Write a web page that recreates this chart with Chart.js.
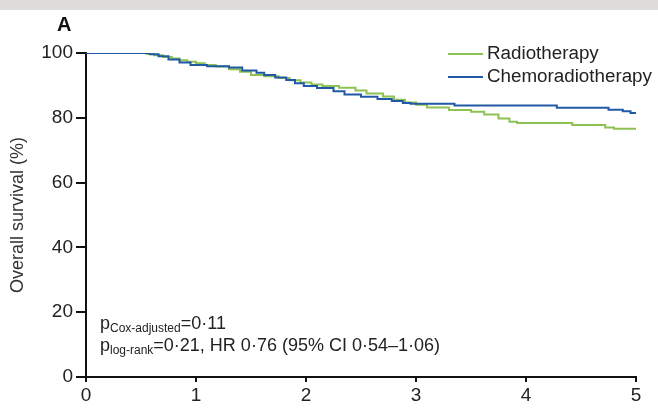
<!DOCTYPE html>
<html>
<head>
<meta charset="utf-8">
<script src="https://cdn.jsdelivr.net/npm/chart.js@4.4.1/dist/chart.umd.min.js"></script>
<style>
  body { margin: 0; background: #fff; }
  #wrap { width: 658px; height: 408px; }
</style>
</head>
<body>
<div id="wrap"><canvas id="myChart" width="658" height="408"></canvas></div>
<script>
// Kaplan-Meier curves (years, % alive)
const seriesNames = ['Radiotherapy', 'Chemoradiotherapy'];
const radioYears = [0, 0.5, 0.55, 0.62, 0.7, 0.78, 0.85, 0.92, 1.0, 1.08, 1.18, 1.3, 1.4, 1.5, 1.62, 1.75, 1.85, 1.95, 2.05, 2.15, 2.3, 2.45, 2.55, 2.7, 2.8, 2.9, 3.0, 3.1, 3.3, 3.5, 3.62, 3.75, 3.85, 3.92, 4.42, 4.72, 4.8, 5.0];
const radioSurvival = [100, 100, 99.7, 99.3, 98.8, 98.3, 97.8, 97.3, 96.8, 96.3, 95.8, 95.0, 94.2, 93.2, 92.8, 92.3, 91.6, 90.9, 90.3, 89.8, 89.3, 88.4, 87.5, 86.6, 85.6, 84.7, 84.0, 83.2, 82.4, 81.9, 81.0, 79.8, 78.8, 78.4, 77.8, 77.0, 76.6, 76.6];
const chemoYears = [0, 0.5, 0.58, 0.66, 0.75, 0.85, 0.95, 1.1, 1.3, 1.42, 1.55, 1.62, 1.72, 1.82, 1.9, 1.98, 2.1, 2.25, 2.35, 2.5, 2.65, 2.78, 2.88, 2.95, 3.35, 4.28, 4.75, 4.88, 4.95, 5.0];
const chemoSurvival = [100, 100, 99.6, 99.0, 98.0, 97.1, 96.3, 95.9, 95.5, 94.6, 93.9, 93.2, 92.4, 91.7, 90.7, 89.8, 89.2, 88.2, 87.2, 86.5, 85.8, 85.2, 84.6, 84.3, 83.8, 83.1, 82.5, 82.0, 81.5, 81.5];
const xTicks = [0, 1, 2, 3, 4, 5];
const yTicks = [0, 20, 40, 60, 80, 100];
const seriesColors = ['#8dc153', '#2159a6'];

const FONT = "'Liberation Sans', Arial, sans-serif";

const toPoints = (xs, ys) => xs.map((x, i) => ({ x: x, y: ys[i] }));

const extras = {
  id: 'extras',
  beforeDraw(chart) {
    const ctx = chart.ctx;
    ctx.save();
    ctx.fillStyle = '#dedbd8';
    ctx.fillRect(0, 0, chart.width, 10);
    ctx.restore();
  },
  afterDraw(chart) {
    const ctx = chart.ctx;
    const xs = chart.scales.x;
    const ys = chart.scales.y;
    ctx.save();
    ctx.fillStyle = '#111';
    ctx.textBaseline = 'alphabetic';

    // panel letter
    ctx.font = 'bold 20px ' + FONT;
    ctx.fillText('A', 57, 31);

    // legend
    const legendY = [54, 77];
    seriesNames.forEach((name, i) => {
      ctx.strokeStyle = seriesColors[i];
      ctx.lineWidth = 2;
      ctx.beginPath();
      ctx.moveTo(448, legendY[i]);
      ctx.lineTo(483, legendY[i]);
      ctx.stroke();
      ctx.font = '18.8px ' + FONT;
      ctx.fillStyle = '#222';
      ctx.textBaseline = 'middle';
      ctx.fillText(name, 487, legendY[i]);
    });

    // statistics
    ctx.textBaseline = 'alphabetic';
    ctx.fillStyle = '#222';
    const tx = xs.getPixelForValue(0.127);
    const lines = [
      { sub: 'Cox-adjusted', rest: '=0·11', y: ys.getPixelForValue(14.8) },
      { sub: 'log-rank', rest: '=0·21, HR 0·76 (95% CI 0·54–1·06)', y: ys.getPixelForValue(8.0) }
    ];
    lines.forEach(l => {
      let x = tx;
      ctx.font = '18px ' + FONT;
      ctx.fillText('p', x, l.y);
      x += ctx.measureText('p').width;
      ctx.font = '12px ' + FONT;
      ctx.fillText(l.sub, x, l.y + 3);
      x += ctx.measureText(l.sub).width;
      ctx.font = '18px ' + FONT;
      ctx.fillText(l.rest, x, l.y);
    });
    ctx.restore();
  }
};

new Chart(document.getElementById('myChart'), {
  type: 'line',
  data: {
    datasets: [
      {
        label: seriesNames[0],
        data: toPoints(radioYears, radioSurvival),
        borderColor: seriesColors[0],
        borderWidth: 2,
        stepped: true,
        pointRadius: 0,
        order: 2
      },
      {
        label: seriesNames[1],
        data: toPoints(chemoYears, chemoSurvival),
        borderColor: seriesColors[1],
        borderWidth: 2,
        stepped: true,
        pointRadius: 0,
        order: 1
      }
    ]
  },
  options: {
    responsive: false,
    animation: false,
    layout: { padding: { left: 0, top: 53, right: 22, bottom: 0 } },
    plugins: { legend: { display: false }, tooltip: { enabled: false } },
    scales: {
      x: {
        type: 'linear',
        min: xTicks[0],
        max: xTicks[xTicks.length - 1],
        afterBuildTicks: s => { s.ticks = xTicks.map(v => ({ value: v })); },
        afterFit: s => { s.height = 31; },
        border: { color: '#111', width: 2 },
        grid: { drawOnChartArea: false, color: '#111', lineWidth: 2, tickLength: 5 },
        ticks: { color: '#222', padding: 2, font: { family: FONT, size: 19 } }
      },
      y: {
        min: yTicks[0],
        max: yTicks[yTicks.length - 1],
        afterBuildTicks: s => { s.ticks = yTicks.map(v => ({ value: v })); },
        afterFit: s => { s.width = 86; },
        border: { color: '#111', width: 2 },
        grid: { drawOnChartArea: false, color: '#111', lineWidth: 2, tickLength: 10 },
        ticks: { color: '#222', padding: 3, font: { family: FONT, size: 19 } },
        title: {
          display: true,
          text: 'Overall survival (%)',
          color: '#333',
          padding: { top: 7, bottom: 0 },
          font: { family: FONT, size: 18 }
        }
      }
    }
  },
  plugins: [extras]
});
</script>
</body>
</html>
